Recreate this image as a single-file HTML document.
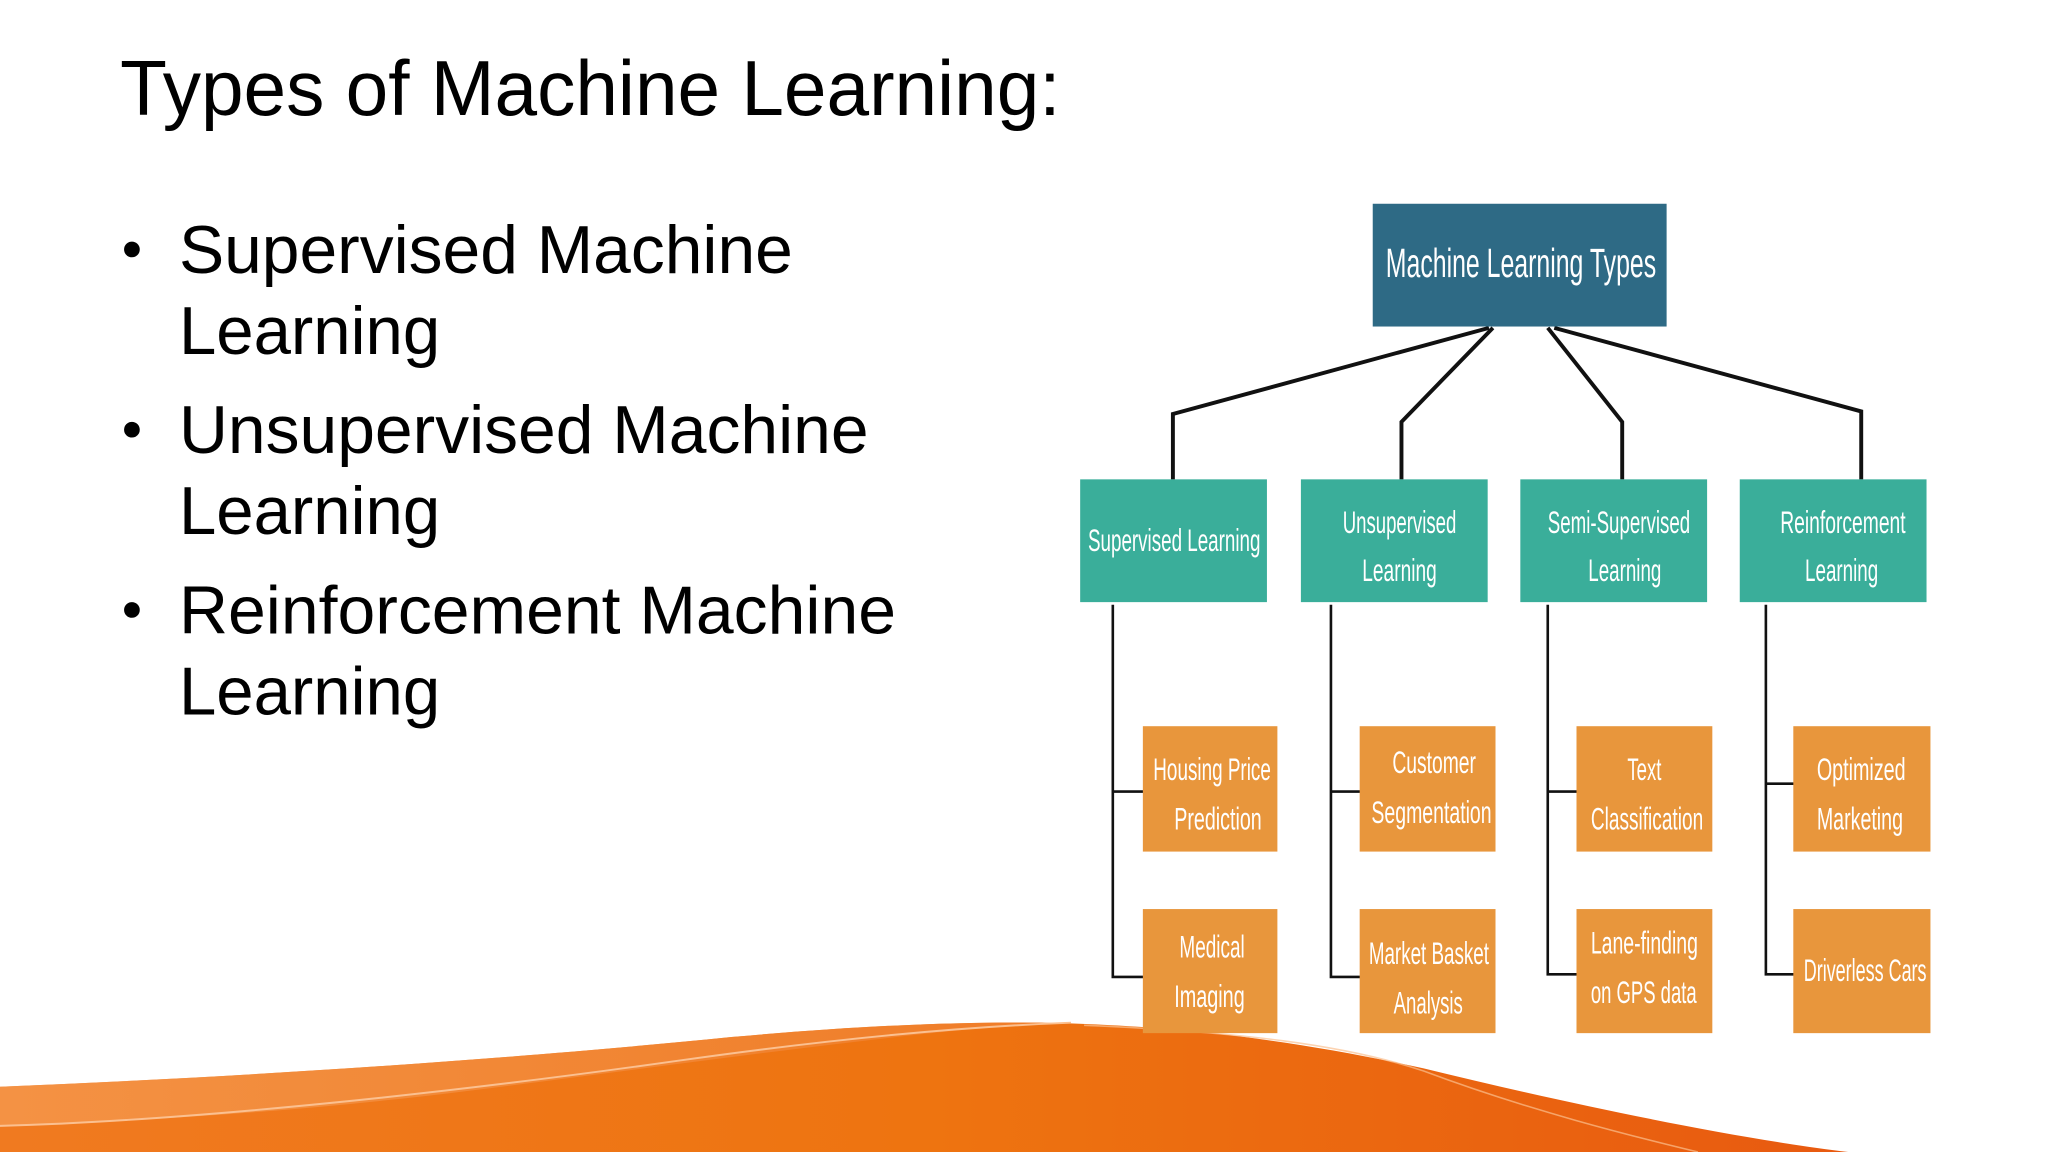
<!DOCTYPE html>
<html><head><meta charset="utf-8"><style>
html,body{margin:0;padding:0;background:#fff;}
svg{display:block;}
.t{font-family:"Liberation Sans",sans-serif;fill:#000;}
.b{font-family:"Liberation Sans Narrow","Liberation Sans",sans-serif;fill:#fff;}
</style></head><body>
<svg width="2048" height="1152" viewBox="0 0 1568 882" xmlns="http://www.w3.org/2000/svg">
<defs>
<linearGradient id="g1" x1="0" y1="0" x2="1" y2="0">
<stop offset="0" stop-color="#f07a20"/><stop offset="0.5" stop-color="#ee7410"/><stop offset="1" stop-color="#e85a10"/>
</linearGradient>
<linearGradient id="g2" x1="0" y1="0" x2="1" y2="0">
<stop offset="0" stop-color="#f59a50"/><stop offset="1" stop-color="#f08030"/>
</linearGradient>
</defs>
<rect width="1568" height="882" fill="#fff"/>
<!-- wave -->
<path d="M0,882 L0,832 C200,824 400,810 560,794 C660,785 740,782 800,783 C900,785 990,796 1090,818 C1200,845 1330,872 1415,882 Z" fill="url(#g1)"/>
<path d="M0,832 C200,824 400,810 560,794 C660,785 740,782 800,783 C680,792 520,815 360,835 C240,850 120,858 0,862 Z" fill="url(#g2)" opacity="0.75"/>
<path d="M0,862 C150,858 350,836 520,812 C640,795 740,786 820,783" stroke="#fbc090" stroke-width="1.5" fill="none"/>
<path d="M830,785 C950,790 1030,800 1090,820 C1170,850 1250,870 1300,882" stroke="#fbc090" stroke-width="1.2" fill="none" opacity="0.7"/>

<text class="t" x="92" y="88" font-size="60" textLength="720" lengthAdjust="spacingAndGlyphs">Types of Machine Learning:</text>
<g class="t" font-size="52">
<circle cx="101" cy="191" r="6" fill="#000"/>
<text x="137" y="209" textLength="470" lengthAdjust="spacingAndGlyphs">Supervised Machine</text>
<text x="137" y="271" textLength="200" lengthAdjust="spacingAndGlyphs">Learning</text>
<circle cx="101" cy="329" r="6" fill="#000"/>
<text x="137" y="347" textLength="528" lengthAdjust="spacingAndGlyphs">Unsupervised Machine</text>
<text x="137" y="409" textLength="200" lengthAdjust="spacingAndGlyphs">Learning</text>
<circle cx="101" cy="467" r="6" fill="#000"/>
<text x="137" y="485" textLength="549" lengthAdjust="spacingAndGlyphs">Reinforcement Machine</text>
<text x="137" y="547" textLength="200" lengthAdjust="spacingAndGlyphs">Learning</text>
</g>
<!-- connectors -->
<g stroke="#111" stroke-width="3" fill="none">
<polyline points="1140,251 898,317 898,367"/>
<polyline points="1143,251 1073,323 1073,367"/>
<polyline points="1185,251 1242,323 1242,367"/>
<polyline points="1190,251 1425,315 1425,367"/>
</g>
<g stroke="#111" stroke-width="2" fill="none">
<polyline points="852,463 852,748 876,748"/><line x1="852" y1="606" x2="876" y2="606"/>
<polyline points="1019,463 1019,748 1042,748"/><line x1="1019" y1="606" x2="1042" y2="606"/>
<polyline points="1185,463 1185,746 1208,746"/><line x1="1185" y1="606" x2="1208" y2="606"/>
<polyline points="1352,463 1352,746 1374,746"/><line x1="1352" y1="600" x2="1374" y2="600"/>
</g>
<!-- top -->
<rect x="1051" y="156" width="225" height="94" fill="#2e6a85"/>
<text class="b" x="1061" y="212" font-size="31" textLength="207" lengthAdjust="spacingAndGlyphs">Machine Learning Types</text>
<!-- level 2 -->
<g fill="#3aae9a">
<rect x="827" y="367" width="143" height="94"/>
<rect x="996" y="367" width="143" height="94"/>
<rect x="1164" y="367" width="143" height="94"/>
<rect x="1332" y="367" width="143" height="94"/>
</g>
<g class="b" font-size="24">
<text x="833" y="422" textLength="132" lengthAdjust="spacingAndGlyphs">Supervised Learning</text>
<text x="1028" y="408" textLength="87" lengthAdjust="spacingAndGlyphs">Unsupervised</text>
<text x="1043" y="445" textLength="57" lengthAdjust="spacingAndGlyphs">Learning</text>
<text x="1185" y="408" textLength="109" lengthAdjust="spacingAndGlyphs">Semi-Supervised</text>
<text x="1216" y="445" textLength="56" lengthAdjust="spacingAndGlyphs">Learning</text>
<text x="1363" y="408" textLength="96" lengthAdjust="spacingAndGlyphs">Reinforcement</text>
<text x="1382" y="445" textLength="56" lengthAdjust="spacingAndGlyphs">Learning</text>
</g>
<!-- level 3 -->
<g fill="#e8963c">
<rect x="875" y="556" width="103" height="96"/>
<rect x="1041" y="556" width="104" height="96"/>
<rect x="1207" y="556" width="104" height="96"/>
<rect x="1373" y="556" width="105" height="96"/>
<rect x="875" y="696" width="103" height="95"/>
<rect x="1041" y="696" width="104" height="95"/>
<rect x="1207" y="696" width="104" height="95"/>
<rect x="1373" y="696" width="105" height="95"/>
</g>
<g class="b" font-size="24">
<text x="883" y="597" textLength="90" lengthAdjust="spacingAndGlyphs">Housing Price</text>
<text x="899" y="635" textLength="67" lengthAdjust="spacingAndGlyphs">Prediction</text>
<text x="1066" y="592" textLength="64" lengthAdjust="spacingAndGlyphs">Customer</text>
<text x="1050" y="630" textLength="92" lengthAdjust="spacingAndGlyphs">Segmentation</text>
<text x="1246" y="597" textLength="26" lengthAdjust="spacingAndGlyphs">Text</text>
<text x="1218" y="635" textLength="86" lengthAdjust="spacingAndGlyphs">Classification</text>
<text x="1391" y="597" textLength="68" lengthAdjust="spacingAndGlyphs">Optimized</text>
<text x="1391" y="635" textLength="66" lengthAdjust="spacingAndGlyphs">Marketing</text>
<text x="903" y="733" textLength="50" lengthAdjust="spacingAndGlyphs">Medical</text>
<text x="899" y="771" textLength="54" lengthAdjust="spacingAndGlyphs">Imaging</text>
<text x="1048" y="738" textLength="92" lengthAdjust="spacingAndGlyphs">Market Basket</text>
<text x="1067" y="776" textLength="53" lengthAdjust="spacingAndGlyphs">Analysis</text>
<text x="1218" y="730" textLength="82" lengthAdjust="spacingAndGlyphs">Lane-finding</text>
<text x="1218" y="768" textLength="81" lengthAdjust="spacingAndGlyphs">on GPS data</text>
<text x="1381" y="751" textLength="94" lengthAdjust="spacingAndGlyphs">Driverless Cars</text>
</g>
</svg>
</body></html>
